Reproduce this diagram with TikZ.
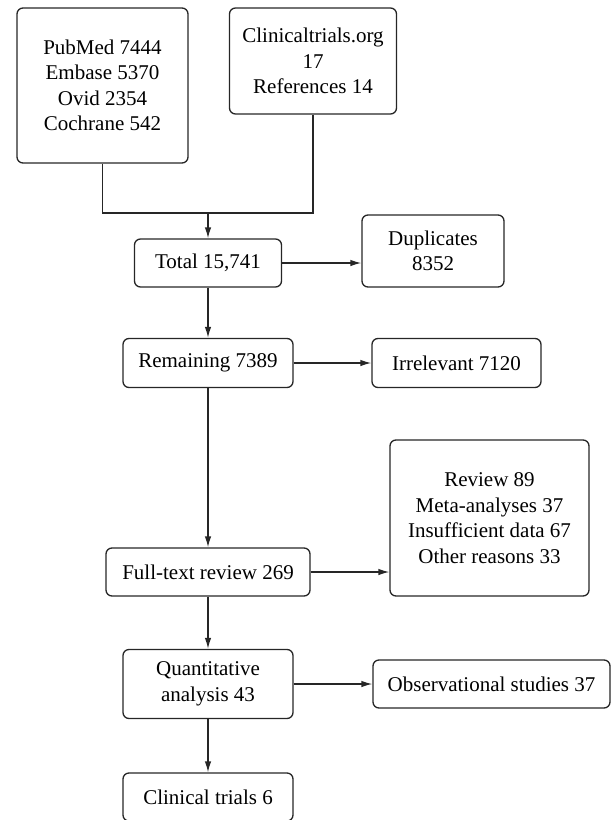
\documentclass[tikz,border=0pt]{standalone}
\usepackage{fontspec}
\setmainfont{Liberation Serif}
\usepackage{tikz}
\usetikzlibrary{arrows.meta,positioning}

\begin{document}
\begin{tikzpicture}[
      x=1pt,y={(0pt,-1pt)},
      mybox/.style={
         rectangle,
         rounded corners=6pt,
         draw=black!85,
         line width=1.3pt,
         align=center,
         inner sep=0pt,
         font=\fontsize{21}{25.5}\selectfont},
      myline/.style={draw=black!85,line width=1.3pt},
      myarrow/.style={myline,-{Latex[length=11pt,width=6.5pt]}}
      ]
      \useasboundingbox (0,0) rectangle (613,820);
      \node[mybox,minimum width=171pt,minimum height=155pt] (c1) at (102.5,85.5) {PubMed 7444\\Embase 5370\\Ovid 2354\\Cochrane 542};
      \node[mybox,minimum width=167pt,minimum height=106pt] (c2) at (313,61) {Clinicaltrials.org\\17\\References 14};
      \node[mybox,minimum width=147pt,minimum height=48pt] (c3) at (208,263) {Total 15,741};
      \node[mybox,minimum width=142pt,minimum height=72pt] (c4) at (433,251) {Duplicates\\8352};
      \node[mybox,minimum width=170pt,minimum height=49pt] (c5) at (208,363) {Remaining 7389};
      \node[mybox,minimum width=169pt,minimum height=49pt] (c6) at (456.5,363) {Irrelevant 7120};
      \node[mybox,minimum width=204pt,minimum height=48pt] (c7) at (208,572) {Full-text review 269};
      \node[mybox,minimum width=199pt,minimum height=156pt] (c8) at (489.5,518) {Review 89\\Meta-analyses 37\\Insufficient data 67\\Other reasons 33};
      \node[mybox,minimum width=170pt,minimum height=69pt] (c9) at (208,684) {Quantitative\\analysis 43};
      \node[mybox,minimum width=237pt,minimum height=48pt] (c10) at (491.5,684) {Observational studies 37};
      \node[mybox,minimum width=170pt,minimum height=48pt] (c11) at (208,797) {Clinical trials 6};
      \coordinate (j1) at (208,213);
      % the two sources meet above the total
      \draw[myline] (c1) |- (j1);
      \draw[myline] (c2) |- (j1);
      \draw[myarrow] (j1) -- (c3);
    \foreach \i/\j in {% start node/end node
      c3/c5,
      c5/c7,
      c7/c9,
      c9/c11,
      c5/c6,
      c9/c10}
       \draw[myarrow] (\i) -- (\j);
     % side boxes that are not level with their source
     \draw[myarrow] (c3) -- (c3 -| c4.west);
     \draw[myarrow] (c7) -- (c7 -| c8.west);
\end{tikzpicture}
\end{document}
